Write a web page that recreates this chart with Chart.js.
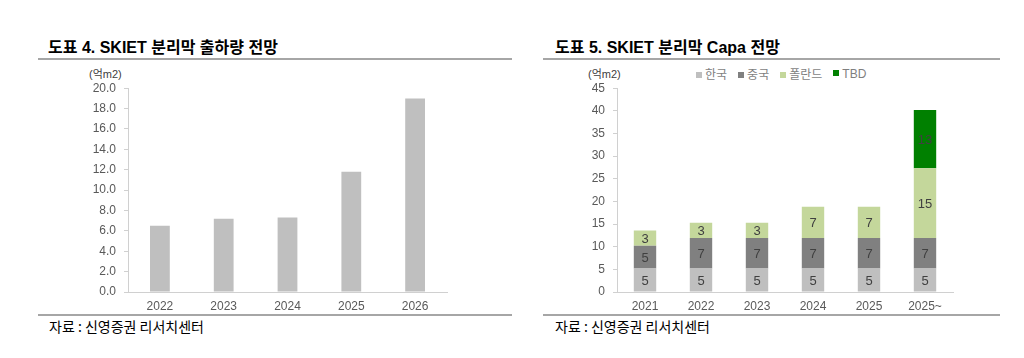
<!DOCTYPE html>
<html><head><meta charset="utf-8">
<script src="https://cdn.jsdelivr.net/npm/chart.js@4/dist/chart.umd.min.js"></script>
<style>
html,body{margin:0;padding:0;background:#fff;width:1024px;height:358px;overflow:hidden;font-family:"Liberation Sans","Noto Sans CJK KR",sans-serif;}
.abs{position:absolute;}
.title{font-family:"Liberation Sans","Noto Sans CJK KR",sans-serif;font-weight:bold;font-size:16px;color:#000;white-space:nowrap;}
.rule{height:2px;background:#a6a6a6;}
.src{font-size:14px;color:#000;white-space:nowrap;font-family:"Noto Sans CJK KR",sans-serif;}
.unit{font-size:11px;color:#404040;white-space:nowrap;}
.legend{font-size:12px;color:#7f7f7f;white-space:nowrap;display:flex;gap:11px;align-items:center;}
.legend span.sw{display:inline-block;width:6px;height:6px;margin-right:3px;vertical-align:middle;position:relative;top:-1px;}
</style></head>
<body>
<div class="abs title" style="left:48px;top:34px;">도표 4. SKIET 분리막 출하량 전망</div>
<div class="abs title" style="left:555px;top:34px;">도표 5. SKIET 분리막 Capa 전망</div>
<div class="abs rule" style="left:38px;top:58px;width:474px;"></div>
<div class="abs rule" style="left:543px;top:58px;width:457px;"></div>
<div class="abs rule" style="left:38px;top:314px;width:474px;"></div>
<div class="abs rule" style="left:543px;top:314px;width:457px;"></div>
<div class="abs src" style="left:49px;top:316px;">자료 : 신영증권 리서치센터</div>
<div class="abs src" style="left:555px;top:316px;">자료 : 신영증권 리서치센터</div>
<div class="abs unit" style="left:89px;top:65px;">(억m2)</div>
<div class="abs unit" style="left:588px;top:65px;">(억m2)</div>
<div class="abs legend" id="legend" style="left:696px;top:65px;"></div>
<canvas id="c1" class="abs" style="left:38px;top:73px;"></canvas>
<canvas id="c2" class="abs" style="left:543px;top:73px;"></canvas>
<script>
// Chart 1 data
const years1 = ["2022","2023","2024","2025","2026"];
const shipments = [6.5, 7.2, 7.3, 11.8, 19.0];
const yTicks1 = {min:0, max:20, step:2};

// Chart 2 data
const years2 = ["2021","2022","2023","2024","2025","2025~"];
const seriesNames = ["한국","중국","폴란드","TBD"];
const korea  = [5.2, 5.2, 5.2, 5.2, 5.2, 5.2];
const china  = [5.0, 6.7, 6.7, 6.7, 6.7, 6.7];
const poland = [3.4, 3.4, 3.4, 6.9, 6.9, 15.4];
const tbd    = [0, 0, 0, 0, 0, 12.9];
const yTicks2 = {min:0, max:45, step:5};
const colors2 = ["#bfbfbf","#808080","#c4d79b","#008000"];

const tickFont = {family:"'Liberation Sans', Arial, sans-serif", size:12};
const tickColor = "#595959";
const axisColor = "#d0d0d0";

Chart.defaults.animation = false;
Chart.defaults.responsive = false;

function makeScales(yWidth, yt, fmt){
  return {
    x:{
      grid:{display:false, drawTicks:false},
      border:{display:true, color:axisColor, width:1},
      ticks:{font:tickFont, color:tickColor, padding:7, maxRotation:0},
      afterFit:(s)=>{s.height=22;}
    },
    y:{
      min:yt.min, max:yt.max,
      grid:{display:true, drawOnChartArea:false, drawTicks:true, tickLength:4, color:axisColor},
      border:{display:true, color:axisColor, width:1},
      ticks:{stepSize:yt.step, font:tickFont, color:tickColor, padding:8, callback:fmt},
      afterFit:(s)=>{s.width=yWidth;}
    }
  };
}

const c1 = document.getElementById('c1');
c1.width = 420; c1.height = 241;
new Chart(c1, {
  type:'bar',
  data:{labels:years1, datasets:[{label:"출하량", data:shipments, backgroundColor:"#bfbfbf", categoryPercentage:1, barPercentage:0.31}]},
  options:{
    devicePixelRatio:1,
    layout:{padding:{top:9,right:11,left:0,bottom:0}},
    plugins:{legend:{display:false}, tooltip:{enabled:false}},
    scales:makeScales(90, yTicks1, v=>Number(v).toFixed(1))
  }
});

const labelPlugin = {
  id:'stackLabels',
  afterDatasetsDraw(chart){
    const ctx = chart.ctx;
    ctx.save();
    ctx.font = "13px 'Liberation Sans', Arial, sans-serif";
    ctx.fillStyle = "#404040";
    ctx.textAlign = "center";
    ctx.textBaseline = "middle";
    chart.data.datasets.forEach((ds, di)=>{
      const meta = chart.getDatasetMeta(di);
      meta.data.forEach((el, i)=>{
        const v = ds.data[i];
        if(!v) return;
        const {x, y, base} = el.getProps(['x','y','base'], true);
        ctx.fillText(String(Math.round(v)), x, (y+base)/2 + 1);
      });
    });
    ctx.restore();
  }
};

const series2 = [korea, china, poland, tbd];
const c2 = document.getElementById('c2');
c2.width = 420; c2.height = 241;
new Chart(c2, {
  type:'bar',
  data:{labels:years2, datasets:series2.map((d,i)=>({label:seriesNames[i], data:d, backgroundColor:colors2[i], categoryPercentage:1, barPercentage:0.4}))},
  options:{
    devicePixelRatio:1,
    layout:{padding:{top:9,right:10,left:0,bottom:0}},
    plugins:{legend:{display:false}, tooltip:{enabled:false}},
    scales:(()=>{const s=makeScales(74, yTicks2, v=>String(v)); s.x.stacked=true; s.y.stacked=true; return s;})()
  },
  plugins:[labelPlugin]
});

// HTML legend from series names/colors
const lg = document.getElementById('legend');
seriesNames.forEach((n,i)=>{
  const item = document.createElement('div');
  item.innerHTML = '<span class="sw" style="background:'+colors2[i]+'"></span>'+n;
  lg.appendChild(item);
});
</script>
</body></html>
